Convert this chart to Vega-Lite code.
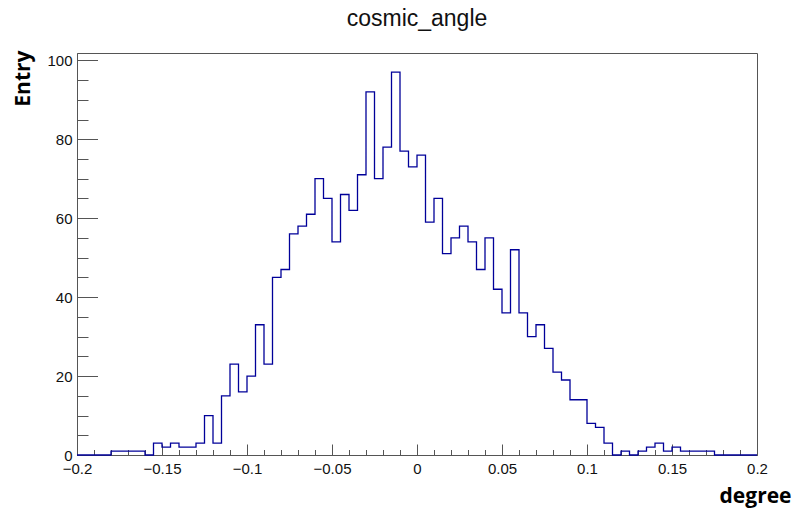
{
  "$schema": "https://vega.github.io/schema/vega-lite/v6.json",
  "width": 680,
  "height": 402,
  "autosize": {"type": "none"},
  "padding": {"left": 77, "top": 53, "right": 38, "bottom": 56},
  "background": "white",
  "title": {"text": "cosmic_angle", "font": "Liberation Sans", "fontSize": 23, "fontWeight": "normal", "color": "#111", "anchor": "middle", "frame": "group", "baseline": "alphabetic", "offset": 1},
  "config": {
    "view": {"stroke": "#555", "strokeWidth": 1},
    "axis": {"grid": false, "domainColor": "#555", "tickColor": "#555", "labelFont": "Liberation Sans", "labelFontSize": 15, "labelColor": "#111", "labelFlush": false, "labelOverlap": false, "labelBound": false}
  },
  "data": {"values": [
    {"x": -0.2, "n": 0}, {"x": -0.195, "n": 0}, {"x": -0.19, "n": 0}, {"x": -0.185, "n": 0},
    {"x": -0.18, "n": 1}, {"x": -0.175, "n": 1}, {"x": -0.17, "n": 1}, {"x": -0.165, "n": 1},
    {"x": -0.16, "n": 0}, {"x": -0.155, "n": 3}, {"x": -0.15, "n": 2}, {"x": -0.145, "n": 3},
    {"x": -0.14, "n": 2}, {"x": -0.135, "n": 2}, {"x": -0.13, "n": 3}, {"x": -0.125, "n": 10},
    {"x": -0.12, "n": 3}, {"x": -0.115, "n": 15}, {"x": -0.11, "n": 23}, {"x": -0.105, "n": 16},
    {"x": -0.1, "n": 20}, {"x": -0.095, "n": 33}, {"x": -0.09, "n": 23}, {"x": -0.085, "n": 45},
    {"x": -0.08, "n": 47}, {"x": -0.075, "n": 56}, {"x": -0.07, "n": 58}, {"x": -0.065, "n": 61},
    {"x": -0.06, "n": 70}, {"x": -0.055, "n": 65}, {"x": -0.05, "n": 54}, {"x": -0.045, "n": 66},
    {"x": -0.04, "n": 62}, {"x": -0.035, "n": 71}, {"x": -0.03, "n": 92}, {"x": -0.025, "n": 70},
    {"x": -0.02, "n": 78}, {"x": -0.015, "n": 97}, {"x": -0.01, "n": 77}, {"x": -0.005, "n": 73},
    {"x": 0.0, "n": 76}, {"x": 0.005, "n": 59}, {"x": 0.01, "n": 65}, {"x": 0.015, "n": 51},
    {"x": 0.02, "n": 55}, {"x": 0.025, "n": 58}, {"x": 0.03, "n": 54}, {"x": 0.035, "n": 47},
    {"x": 0.04, "n": 55}, {"x": 0.045, "n": 42}, {"x": 0.05, "n": 36}, {"x": 0.055, "n": 52},
    {"x": 0.06, "n": 36}, {"x": 0.065, "n": 30}, {"x": 0.07, "n": 33}, {"x": 0.075, "n": 27},
    {"x": 0.08, "n": 21}, {"x": 0.085, "n": 19}, {"x": 0.09, "n": 14}, {"x": 0.095, "n": 14},
    {"x": 0.1, "n": 8}, {"x": 0.105, "n": 7}, {"x": 0.11, "n": 3}, {"x": 0.115, "n": 0},
    {"x": 0.12, "n": 1}, {"x": 0.125, "n": 0}, {"x": 0.13, "n": 1}, {"x": 0.135, "n": 2},
    {"x": 0.14, "n": 3}, {"x": 0.145, "n": 1}, {"x": 0.15, "n": 2}, {"x": 0.155, "n": 1},
    {"x": 0.16, "n": 1}, {"x": 0.165, "n": 1}, {"x": 0.17, "n": 1}, {"x": 0.175, "n": 0},
    {"x": 0.18, "n": 0}, {"x": 0.185, "n": 0}, {"x": 0.19, "n": 0}, {"x": 0.195, "n": 0},
    {"x": 0.2, "n": 0}
  ]},
  "layer": [
    {
      "mark": {"type": "line", "interpolate": "step-after", "opacity": 0},
      "encoding": {
        "x": {"field": "x", "type": "quantitative", "scale": {"domain": [-0.2, 0.2], "nice": false, "zero": false},
          "axis": {"orient": "bottom", "values": [-0.19, -0.18, -0.17, -0.16, -0.14, -0.13, -0.12, -0.11, -0.09, -0.08, -0.07, -0.06, -0.04, -0.03, -0.02, -0.01, 0.01, 0.02, 0.03, 0.04, 0.06, 0.07, 0.08, 0.09, 0.11, 0.12, 0.13, 0.14, 0.16, 0.17, 0.18, 0.19], "labels": false, "tickSize": -5.5, "domain": false, "title": null}},
        "y": {"field": "n", "type": "quantitative", "scale": {"domain": [0, 101.85], "nice": false},
          "axis": {"orient": "left", "values": [5, 10, 15, 25, 30, 35, 45, 50, 55, 65, 70, 75, 85, 90, 95], "labels": false, "tickSize": -11, "domain": false, "title": null}}
      }
    },
    {
      "mark": {"type": "line", "interpolate": "step-after", "color": "#000099", "strokeWidth": 1.3},
      "encoding": {
        "x": {"field": "x", "type": "quantitative", "scale": {"domain": [-0.2, 0.2], "nice": false, "zero": false},
          "axis": {"orient": "bottom", "values": [-0.2, -0.15, -0.1, -0.05, 0, 0.05, 0.1, 0.15, 0.2], "format": "~f", "tickSize": -11, "labelPadding": 17,
            "title": "degree", "titleFont": "Open Sans", "titleFontWeight": "bold", "titleFontSize": 21, "titleColor": "#000",
            "titleAnchor": null, "titleX": 714, "titleY": 47, "titleAlign": "right", "titleBaseline": "alphabetic", "titleAngle": 0}},
        "y": {"field": "n", "type": "quantitative", "scale": {"domain": [0, 101.85], "nice": false},
          "axis": {"orient": "left", "values": [0, 20, 40, 60, 80, 100], "format": "d", "tickSize": -20.5, "labelPadding": 25.5,
            "title": "Entry", "titleFont": "Open Sans", "titleFontWeight": "bold", "titleFontSize": 21, "titleColor": "#000",
            "titleX": -48, "titleY": -3, "titleAlign": "right", "titleBaseline": "alphabetic", "titleAngle": -90}}
      }
    }
  ],
  "resolve": {"axis": {"x": "independent", "y": "independent"}}
}
